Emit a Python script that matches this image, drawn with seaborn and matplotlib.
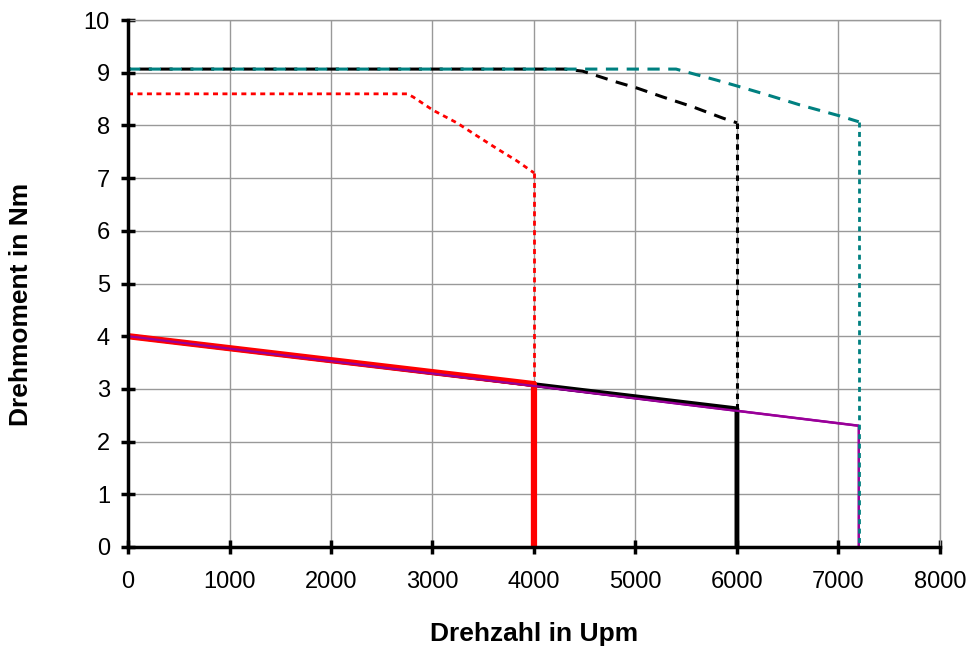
import matplotlib
matplotlib.use("Agg")
import matplotlib.pyplot as plt
import seaborn as sns

# (Drehzahl in Upm, Drehmoment in Nm)

# continuous torque lines (solid)
s_red_x = [0, 4000, 4000]
s_red_y = [4.0, 3.09, 0]
s_black_x = [0, 6000, 6000]
s_black_y = [4.0, 2.62, 0]
s_purple_x = [0, 7200, 7200]
s_purple_y = [4.0, 2.30, 0]

# peak torque curves (dashed part)
p_red_x = [0, 2750, 2810, 3005, 3240, 3440, 3635, 3830, 4000]
p_red_y = [8.6, 8.6, 8.54, 8.29, 8.05, 7.80, 7.56, 7.33, 7.10]
p_black_x = [0, 4300, 4480, 4820, 5015, 5270, 5570, 5860, 6000]
p_black_y = [9.07, 9.07, 9.03, 8.82, 8.71, 8.54, 8.35, 8.14, 8.05]
p_teal_x = [0, 5400, 5570, 5800, 6000, 6300, 6620, 7015, 7200]
p_teal_y = [9.07, 9.07, 8.98, 8.86, 8.75, 8.58, 8.39, 8.18, 8.07]

# vertical drops at max speed (dotted part)
d_red_x = [4000, 4000]
d_red_y = [7.10, 3.09]
d_black_x = [6000, 6000]
d_black_y = [8.05, 2.62]
d_teal_x = [7200, 7200]
d_teal_y = [8.07, 0]

x_ticks = [0, 1000, 2000, 3000, 4000, 5000, 6000, 7000, 8000]
y_ticks = [0, 1, 2, 3, 4, 5, 6, 7, 8, 9, 10]

sns.set_style("white")
plt.rcParams['font.family'] = ['Liberation Sans', 'DejaVu Sans']
plt.rcParams['text.color'] = 'black'
plt.rcParams['axes.labelcolor'] = 'black'
plt.rcParams['xtick.color'] = 'black'
plt.rcParams['ytick.color'] = 'black'

fig, ax = plt.subplots(figsize=(9.72, 6.48), dpi=100)
fig.subplots_adjust(left=0.1317, right=0.967, bottom=0.156, top=0.969)

red = "#ff0000"
black = "#000000"
teal = "#008080"
purple = "#990099"

def line(x, y, color, lw, dashes=None, z=3, offset=0):
    sns.lineplot(x=x, y=y, ax=ax, color=color, linewidth=lw, sort=False,
                 estimator=None, zorder=z)
    ln = ax.lines[-1]
    if dashes is not None:
        ln.set_linestyle((offset, dashes))
    ln.set_solid_capstyle("butt")
    ln.set_dash_capstyle("butt")
    return ln

# peak curves
line(p_red_x, p_red_y, red, 2.0, dashes=(1.8, 1.6))
line(d_red_x, d_red_y, red, 2.0, dashes=(1.8, 1.6))
line(p_black_x, p_black_y, black, 2.2, dashes=(4.0, 2.8), offset=3)
line(d_black_x, d_black_y, black, 2.2, dashes=(1.8, 1.6))

# continuous lines
line(s_purple_x, s_purple_y, purple, 1.8, z=4)
line(s_black_x, s_black_y, black, 3.5, z=4)
line(s_red_x, s_red_y, red, 4.5, z=5)
ax.plot(s_purple_x[:2], s_purple_y[:2], color=purple, linewidth=1.6, zorder=6)

line(p_teal_x, p_teal_y, teal, 2.2, dashes=(4.0, 2.8), z=6)
line(d_teal_x, d_teal_y, teal, 2.0, dashes=(1.8, 1.6), z=6)

ax.set_xlim(0, 8000)
ax.set_ylim(0, 10)
ax.set_xticks(x_ticks)
ax.set_yticks(y_ticks)
ax.set_xticklabels([str(t) for t in x_ticks])
ax.set_yticklabels([str(t) for t in y_ticks])

ax.grid(True, color="#999999", linewidth=1.0)
ax.set_axisbelow(True)
for side in ["top", "right"]:
    ax.spines[side].set_color("#999999")
    ax.spines[side].set_linewidth(1.0)
for side in ["left", "bottom"]:
    ax.spines[side].set_color("black")
    ax.spines[side].set_linewidth(2.5)
    ax.spines[side].set_zorder(7)

ax.tick_params(axis="both", direction="inout", length=10, width=2.5,
               color="black", labelsize=17, bottom=True, left=True)
ax.tick_params(axis="x", pad=12)
ax.tick_params(axis="y", pad=8)

ax.set_xlabel("Drehzahl in Upm", fontsize=19, fontweight="bold", labelpad=21)
ax.set_ylabel("Drehmoment in Nm", fontsize=19, fontweight="bold")
ax.yaxis.set_label_coords(-0.117, 0.461)

plt.savefig("out.png", dpi=100)
